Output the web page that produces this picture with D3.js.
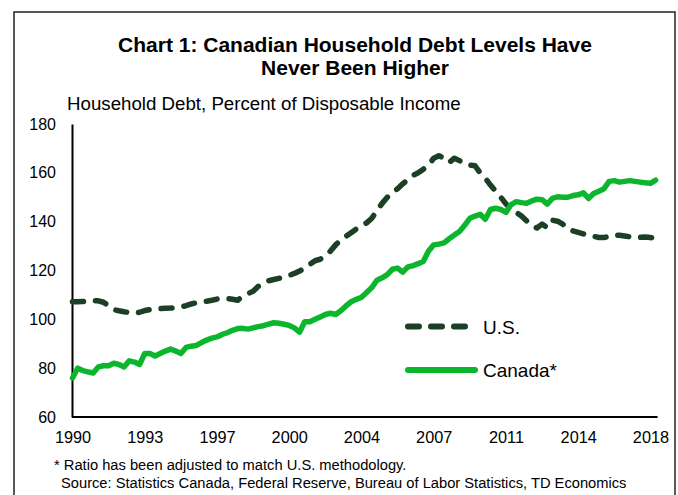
<!DOCTYPE html>
<html>
<head>
<meta charset="utf-8">
<script src="https://cdn.jsdelivr.net/npm/d3@7"></script>
<style>
  html, body { margin: 0; padding: 0; background: #fff; }
  svg { display: block; font-family: "Liberation Sans", Arial, sans-serif; }
</style>
</head>
<body>
<svg id="chart" width="678" height="495"></svg>
<script>
// Quarterly household debt ratios, 1990Q1 to 2018Q2
const startYear = 1990;
const quarterCount = 114;
const quarters = d3.range(quarterCount).map(i => `${startYear + Math.floor(i / 4)}Q${(i % 4) + 1}`);

const canada = [
  76, 80, 79, 78.5, 78, 80.5, 81, 81, 82, 81.5,
  80.5, 83, 82.5, 81.5, 86, 86, 85, 86, 87, 87.8,
  87, 86, 88.5, 89, 89.3, 90.5, 91.5, 92.3, 92.8, 93.8,
  94.5, 95.5, 96.2, 96.3, 96, 96.5, 97, 97.4, 98, 98.6,
  98.4, 98, 97.5, 96.5, 94.7, 99, 99, 100, 101, 102,
  102.5, 102, 103.5, 105.5, 107.2, 108.2, 109, 111, 113, 116,
  117, 118.3, 120.5, 121, 119.3, 121.5, 122, 122.8, 123.8, 128,
  130.5, 130.8, 131.3, 133, 134.5, 136, 138.5, 141.4, 142.3, 143,
  141, 145, 145.5, 145, 143.8, 147, 148.2, 147.8, 147.5, 148.5,
  149.2, 149, 147.2, 149.5, 150.2, 150, 150, 150.7, 151, 151.8,
  149.5, 151.5, 152.5, 153.5, 156.5, 156.8, 156.2, 156.5, 156.8, 156.5,
  156.2, 155.9, 155.7, 157
];

const us = [
  107.2, 107.2, 107.3, 107.4, 107.6, 107.6, 107, 105.5, 104, 103.5,
  103.1, 102.8, 102.5, 102.9, 103.6, 104, 104.2, 104.4, 104.5, 104.6,
  104.8, 105, 105.6, 106.3, 106.8, 107.2, 107.4, 107.8, 108.3, 108.6,
  108.5, 108.2, 107.8, 109.5, 110.5, 111.5, 113.5, 115, 115.8, 116.3,
  116.8, 117.2, 118, 118.8, 119.8, 120.9, 122.5, 124, 124.6, 126,
  128, 130.5, 132.5, 134, 135.5, 137, 138.3, 139.5, 141.4, 144.5,
  147.5, 150, 151.8, 153.5, 155.5, 157.3, 159, 160, 161.5, 163.2,
  166, 167, 166, 164.2, 166, 165, 163.8, 163.2, 162.9, 160,
  157.8, 155, 152.5, 150, 147.3, 145.2, 143.8, 142.3, 140.3, 138.6,
  137.4, 139, 137.6, 140.6, 140.2, 139, 137, 136.2, 135.6, 135,
  134.4, 134, 133.5, 133.5, 133.9, 134.5, 134.4, 134.1, 133.8, 133.5,
  133.6, 133.7, 133.5, 133.2
];

const xTickIndex = [0, 14, 28, 42, 56, 70, 84, 98, 112];
const xTickLabels = ["1990", "1993", "1997", "2000", "2004", "2007", "2011", "2014", "2018"];
const yTicks = [60, 80, 100, 120, 140, 160, 180];

const seriesNames = ["U.S.", "Canada*"];
const titleLines = ["Chart 1: Canadian Household Debt Levels Have", "Never Been Higher"];
const yTitle = "Household Debt, Percent of Disposable Income";
const notes = [
  "* Ratio has been adjusted to match U.S. methodology.",
  "Source: Statistics Canada, Federal Reserve, Bureau of Labor Statistics, TD Economics"
];

const usColor = "#1b4025";
const caColor = "#0cb62c";

const svg = d3.select("#chart");

// outer frame
svg.append("rect")
  .attr("x", 14).attr("y", 12)
  .attr("width", 661).attr("height", 500)
  .attr("fill", "none").attr("stroke", "#222").attr("stroke-width", 1.5);

// title
svg.append("g").selectAll("text").data(titleLines).join("text")
  .attr("x", 355).attr("y", (d, i) => 51.5 + i * 23.5)
  .attr("text-anchor", "middle")
  .attr("font-size", 21).attr("font-weight", "bold").attr("fill", "#000")
  .text(d => d);

svg.append("text")
  .attr("x", 67).attr("y", 110)
  .attr("font-size", 18.7).attr("fill", "#000")
  .text(yTitle);

const x = d3.scaleLinear().domain([0, quarterCount - 1]).range([72.5, 655.6]);
const y = d3.scaleLinear().domain([60, 180]).range([417, 124]);

// y axis
const yAxis = svg.append("g").attr("transform", "translate(72,0)")
  .call(d3.axisLeft(y).tickValues(yTicks).tickSize(0).tickPadding(16));
yAxis.select(".domain").attr("stroke", "#000").attr("stroke-width", 2);
yAxis.selectAll("text").attr("font-size", 16).attr("fill", "#000")
  .attr("font-family", "Liberation Sans, Arial, sans-serif");

// x axis
const xAxis = svg.append("g").attr("transform", "translate(0,417)")
  .call(d3.axisBottom(x).tickValues(xTickIndex).tickFormat((d, i) => xTickLabels[i])
    .tickSize(0).tickPadding(14));
xAxis.select(".domain").attr("d", `M72,0H${x(quarterCount - 1) + 2}`)
  .attr("stroke", "#000").attr("stroke-width", 2);
xAxis.selectAll("text").attr("font-size", 16.3).attr("fill", "#000")
  .attr("font-family", "Liberation Sans, Arial, sans-serif");

const line = d3.line().x((d, i) => x(i)).y(d => y(d));

svg.append("path").datum(us)
  .attr("d", line)
  .attr("fill", "none").attr("stroke", usColor).attr("stroke-width", 5.5)
  .attr("stroke-linecap", "round").attr("stroke-linejoin", "round")
  .attr("stroke-dasharray", "11,12");

svg.append("path").datum(canada)
  .attr("d", line)
  .attr("fill", "none").attr("stroke", caColor).attr("stroke-width", 5.5)
  .attr("stroke-linecap", "round").attr("stroke-linejoin", "round");

// legend
const legend = svg.append("g");
legend.append("line")
  .attr("x1", 408).attr("x2", 465).attr("y1", 326.5).attr("y2", 326.5)
  .attr("stroke", usColor).attr("stroke-width", 6)
  .attr("stroke-linecap", "round").attr("stroke-dasharray", "11,12");
legend.append("line")
  .attr("x1", 408).attr("x2", 475).attr("y1", 370).attr("y2", 370)
  .attr("stroke", caColor).attr("stroke-width", 6)
  .attr("stroke-linecap", "round");
legend.selectAll("text").data(seriesNames).join("text")
  .attr("x", 483).attr("y", (d, i) => 333.5 + i * 43.5)
  .attr("font-size", 19).attr("fill", "#000")
  .text(d => d);

// footnotes
svg.append("g").selectAll("text").data(notes).join("text")
  .attr("x", (d, i) => i === 0 ? 54 : 61)
  .attr("y", (d, i) => 470 + i * 17.5)
  .attr("font-size", 14.7).attr("fill", "#000")
  .text(d => d);
</script>
</body>
</html>
